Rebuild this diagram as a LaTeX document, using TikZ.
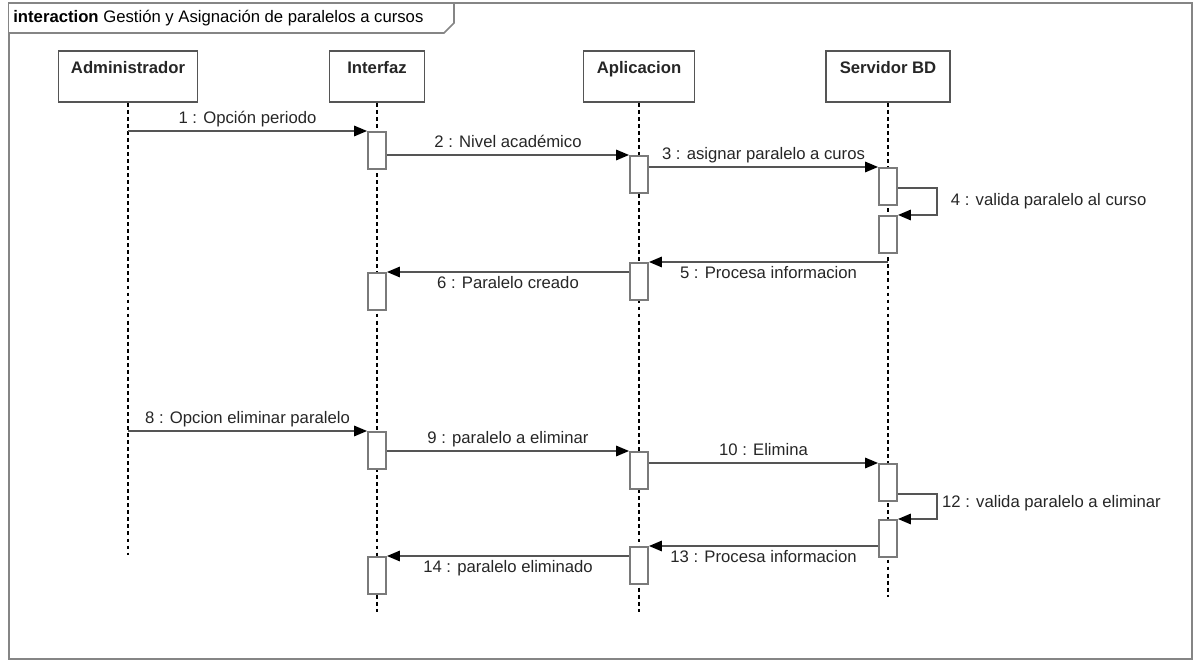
\documentclass[tikz,border=0pt]{standalone}
\usepackage{fontspec}
\setmainfont{Liberation Sans}
\usepackage{tikz}
\usetikzlibrary{arrows.meta,positioning}
\definecolor{framegray}{HTML}{858585}
\definecolor{linegray}{HTML}{555555}
\definecolor{actgray}{HTML}{7A7A7A}
\definecolor{textgray}{HTML}{262626}

\begin{document}
\begin{tikzpicture}[
  x=0.02cm, y=-0.02cm,
  font=\fontsize{9.5}{11}\selectfont, text=textgray,
  head/.style={rectangle, draw=linegray, line width=0.9pt, fill=white, minimum height=1.02cm, inner ysep=0pt, text height=13pt, text depth=15.9pt, font=\fontsize{9.5}{11}\selectfont\bfseries},
  act/.style={rectangle, draw=actgray, line width=1.1pt, fill=white, minimum width=0.36cm, minimum height=0.74cm, inner sep=0pt, anchor=north},
  lifeline/.style={black, line width=0.6pt, dash pattern=on 2.2pt off 1.8pt},
  msg/.style={draw=linegray, line width=0.9pt, -{Triangle[length=7.4pt, width=6pt, black]}},
  lab/.style={inner sep=2pt, text height=7pt, text depth=2pt}
]
\useasboundingbox (0,0) rectangle (1195,661);
\draw[framegray, line width=0.9pt] (9,3) rectangle (1192,659);
\draw[framegray, line width=0.9pt, fill=white] (9,3) -- (454,3) -- (454,23) -- (444,33) -- (9,33);
\node[anchor=base west, inner sep=0pt, text=black] (title) at (13,23) {\textbf{interaction} Gestión y Asignación de paralelos a cursos};

\node[head, minimum width=2.78cm] (adm) at (128,76.5) {Administrador};
\node[head, minimum width=1.9cm] (itf) at (377,76.5) {Interfaz};
\node[head, minimum width=2.22cm] (app) at (639,76.5) {Aplicacion};
\node[head, minimum width=2.48cm] (srv) at (888,76.5) {Servidor BD};

\coordinate (adm-end) at (adm |- 0,555);
\coordinate (itf-end) at (itf |- 0,612);
\coordinate (app-end) at (app |- 0,612);
\coordinate (srv-end) at (srv |- 0,597);
\draw[lifeline] (adm) -- (adm-end);
\draw[lifeline] (itf) -- (itf-end);
\draw[lifeline] (app) -- (app-end);
\draw[lifeline] (srv) -- (srv-end);

\node[act] (i1) at (itf |- 0,131) {};
\node[act] (i2) at (itf |- 0,272) {};
\node[act] (i3) at (itf |- 0,431) {};
\node[act] (i4) at (itf |- 0,556) {};
\node[act] (p1) at (app |- 0,155) {};
\node[act] (p2) at (app |- 0,262) {};
\node[act] (p3) at (app |- 0,451) {};
\node[act] (p4) at (app |- 0,546) {};
\node[act] (s1) at (srv |- 0,167) {};
\node[act] (s2) at (srv |- 0,215) {};
\node[act] (s3) at (srv |- 0,463) {};
\node[act] (s4) at (srv |- 0,519) {};

\draw[msg] (adm |- i1.north west) -- node[lab, above]{1 : Opción periodo} (i1.north west);
\draw[msg] (i1.east |- p1.north west) -- node[lab, above]{2 : Nivel académico} (p1.north west);
\draw[msg] (p1.east |- s1.north west) -- node[lab, above]{3 : asignar paralelo a curos} (s1.north west);
\draw[msg] (s1.north east) ++(0,21) -- ++(39,0) |- node[lab, right, pos=0.25, xshift=5.5pt]{4 : valida paralelo al curso} (s2.north east);
\draw[msg] (srv |- p2.north east) -- node[lab, below]{5 : Procesa informacion} (p2.north east);
\draw[msg] (p2.west |- i2.north east) -- node[lab, below]{6 : Paralelo creado} (i2.north east);

\draw[msg] (adm |- i3.north west) -- node[lab, above]{8 : Opcion eliminar paralelo} (i3.north west);
\draw[msg] (i3.east |- p3.north west) -- node[lab, above]{9 : paralelo a eliminar} (p3.north west);
\draw[msg] (p3.east |- s3.north west) -- node[lab, above]{10 : Elimina} (s3.north west);
\draw[msg] (s3.north east) ++(0,31) -- ++(39,0) |- node[lab, right, pos=0.25, xshift=0.5pt, yshift=2pt]{12 : valida paralelo a eliminar} (s4.north east);
\draw[msg] (s4.west |- p4.north east) -- node[lab, below]{13 : Procesa informacion} (p4.north east);
\draw[msg] (p4.west |- i4.north east) -- node[lab, below]{14 : paralelo eliminado} (i4.north east);
\end{tikzpicture}
\end{document}
